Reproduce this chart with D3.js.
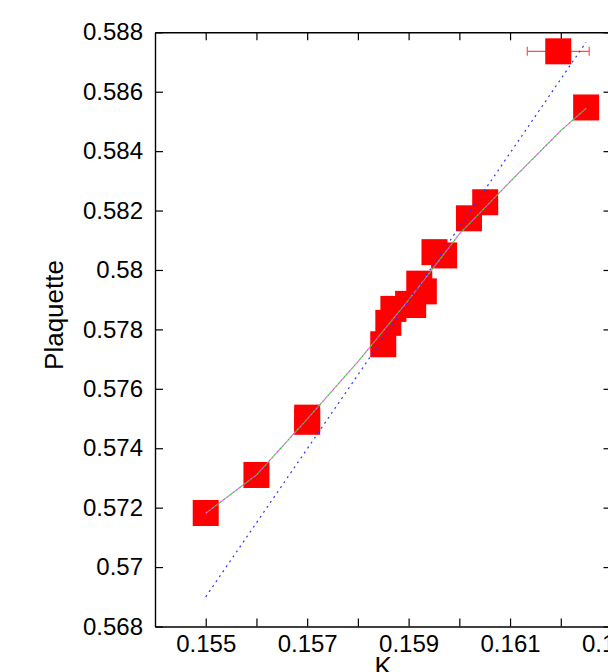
<!DOCTYPE html>
<html>
<head>
<meta charset="utf-8">
<script src="https://cdn.jsdelivr.net/npm/d3@7/dist/d3.min.js"></script>
<style>
  html, body { margin: 0; padding: 0; background: #fff; }
  svg { display: block; }
  text { font-family: "Liberation Sans", Arial, Helvetica, sans-serif; fill: #000; }
</style>
</head>
<body>
<svg id="chart" width="608" height="672"></svg>
<script>
// Measured plaquette values against the hopping parameter K
const kValues    = [0.155, 0.156, 0.157, 0.157, 0.1585, 0.1586, 0.1587, 0.15899, 0.15909, 0.15921, 0.1593, 0.15951, 0.1597, 0.16019, 0.16051, 0.16195, 0.1625];
const plaqValues = [0.57182, 0.57310, 0.57503, 0.57489, 0.57750, 0.57822, 0.57869, 0.57886, 0.57882, 0.57954, 0.57928, 0.58060, 0.58049, 0.58174, 0.58228, 0.58736, 0.58547];
const kErrors    = [0, 0, 0, 0, 0, 0, 0, 0, 0, 0, 0, 0, 0, 0, 0, 0.00061, 0];

// Smooth fit curve (drawn twice: magenta and green)
const fitK = [0.155, 0.156, 0.157, 0.158, 0.159, 0.160, 0.161, 0.162, 0.1625];
const fitP = [0.57181, 0.57310, 0.57498, 0.57691, 0.57899, 0.58121, 0.58297, 0.58469, 0.58544];

// Straight-line fit (blue, dotted)
const lineK = [0.155, 0.1625];
const lineP = [0.5690, 0.58767];

// Axis ticks
const xTicks = [0.155, 0.156, 0.157, 0.158, 0.159, 0.160, 0.161, 0.162, 0.163];
const xLabelled = [0.155, 0.157, 0.159, 0.161, 0.163];
const yTicks = [0.568, 0.570, 0.572, 0.574, 0.576, 0.578, 0.580, 0.582, 0.584, 0.586, 0.588];

const svg = d3.select("#chart");
const plotLeft = 155, plotRight = 611.5, plotTop = 32.3, plotBottom = 626.5;

const x = d3.scaleLinear().domain([0.154, 0.163]).range([plotLeft, plotRight]);
const y = d3.scaleLinear().domain([0.568, 0.588]).range([plotBottom, plotTop]);

const fmt = d => String(+d.toFixed(3));

// Axes with inward ticks on all four sides
function styleAxis(g) {
  g.select(".domain").attr("stroke", "#000").attr("stroke-width", 1.4);
  g.selectAll(".tick line").attr("stroke", "#000").attr("stroke-width", 1.2);
  g.selectAll(".tick text").attr("font-size", 24)
    .attr("font-family", "'Liberation Sans', Arial, sans-serif").attr("fill", "#000");
}

svg.append("g").attr("transform", `translate(0,${plotBottom})`)
  .call(d3.axisBottom(x).tickValues(xTicks).tickSizeInner(-8).tickSizeOuter(0).tickPadding(8.5)
    .tickFormat(d => xLabelled.some(v => Math.abs(v - d) < 1e-9) ? fmt(d) : ""))
  .call(styleAxis);

svg.append("g").attr("transform", `translate(0,${plotTop})`)
  .call(d3.axisTop(x).tickValues(xTicks).tickSizeInner(-8).tickSizeOuter(0).tickFormat(""))
  .call(styleAxis);

svg.append("g").attr("transform", `translate(${plotLeft},0)`)
  .call(d3.axisLeft(y).tickValues(yTicks).tickSizeInner(-8).tickSizeOuter(0).tickPadding(12).tickFormat(fmt))
  .call(styleAxis);

svg.append("g").attr("transform", `translate(${plotRight},0)`)
  .call(d3.axisRight(y).tickValues(yTicks).tickSizeInner(-8).tickSizeOuter(0).tickFormat(""))
  .call(styleAxis);

// Axis titles
svg.append("text")
  .attr("x", (plotLeft + plotRight) / 2).attr("y", 675)
  .attr("text-anchor", "middle").attr("font-size", 26)
  .text("K");

svg.append("text")
  .attr("transform", "translate(63,315) rotate(-90)")
  .attr("text-anchor", "middle").attr("font-size", 26)
  .text("Plaquette");

// Data
const points = kValues.map((k, i) => ({ k, p: plaqValues[i], e: kErrors[i] }));
const S = 26;

// Horizontal error bars
const eb = svg.append("g").attr("stroke", "#ff5050").attr("stroke-width", 1.2);
points.filter(d => d.e > 0).forEach(d => {
  const cy = y(d.p), x0 = x(d.k - d.e), x1 = x(d.k + d.e);
  eb.append("line").attr("x1", x0).attr("x2", x1).attr("y1", cy).attr("y2", cy);
  eb.append("line").attr("x1", x0).attr("x2", x0).attr("y1", cy - 4.5).attr("y2", cy + 4.5);
  eb.append("line").attr("x1", x1).attr("x2", x1).attr("y1", cy - 4.5).attr("y2", cy + 4.5);
});

svg.append("g").selectAll("rect").data(points).join("rect")
  .attr("x", d => x(d.k) - S / 2)
  .attr("y", d => y(d.p) - S / 2)
  .attr("width", S).attr("height", S)
  .attr("fill", "#ff0000");

// Fit lines
const fitLine = d3.line().x(d => x(d[0])).y(d => y(d[1]));
const fitData = fitK.map((k, i) => [k, fitP[i]]);
const lineData = lineK.map((k, i) => [k, lineP[i]]);

svg.append("path").datum(fitData).attr("d", fitLine)
  .attr("fill", "none").attr("stroke", "#ff60ff").attr("stroke-width", 1.2)
  .attr("stroke-dasharray", "2,2");
svg.append("path").datum(fitData).attr("d", fitLine)
  .attr("fill", "none").attr("stroke", "#30c030").attr("stroke-width", 1.2)
  .attr("stroke-dasharray", "2,2").attr("stroke-dashoffset", 2);

svg.append("path").datum(lineData).attr("d", fitLine)
  .attr("fill", "none").attr("stroke", "#3030ff").attr("stroke-width", 1.2)
  .attr("stroke-dasharray", "2,4");
</script>
</body>
</html>
